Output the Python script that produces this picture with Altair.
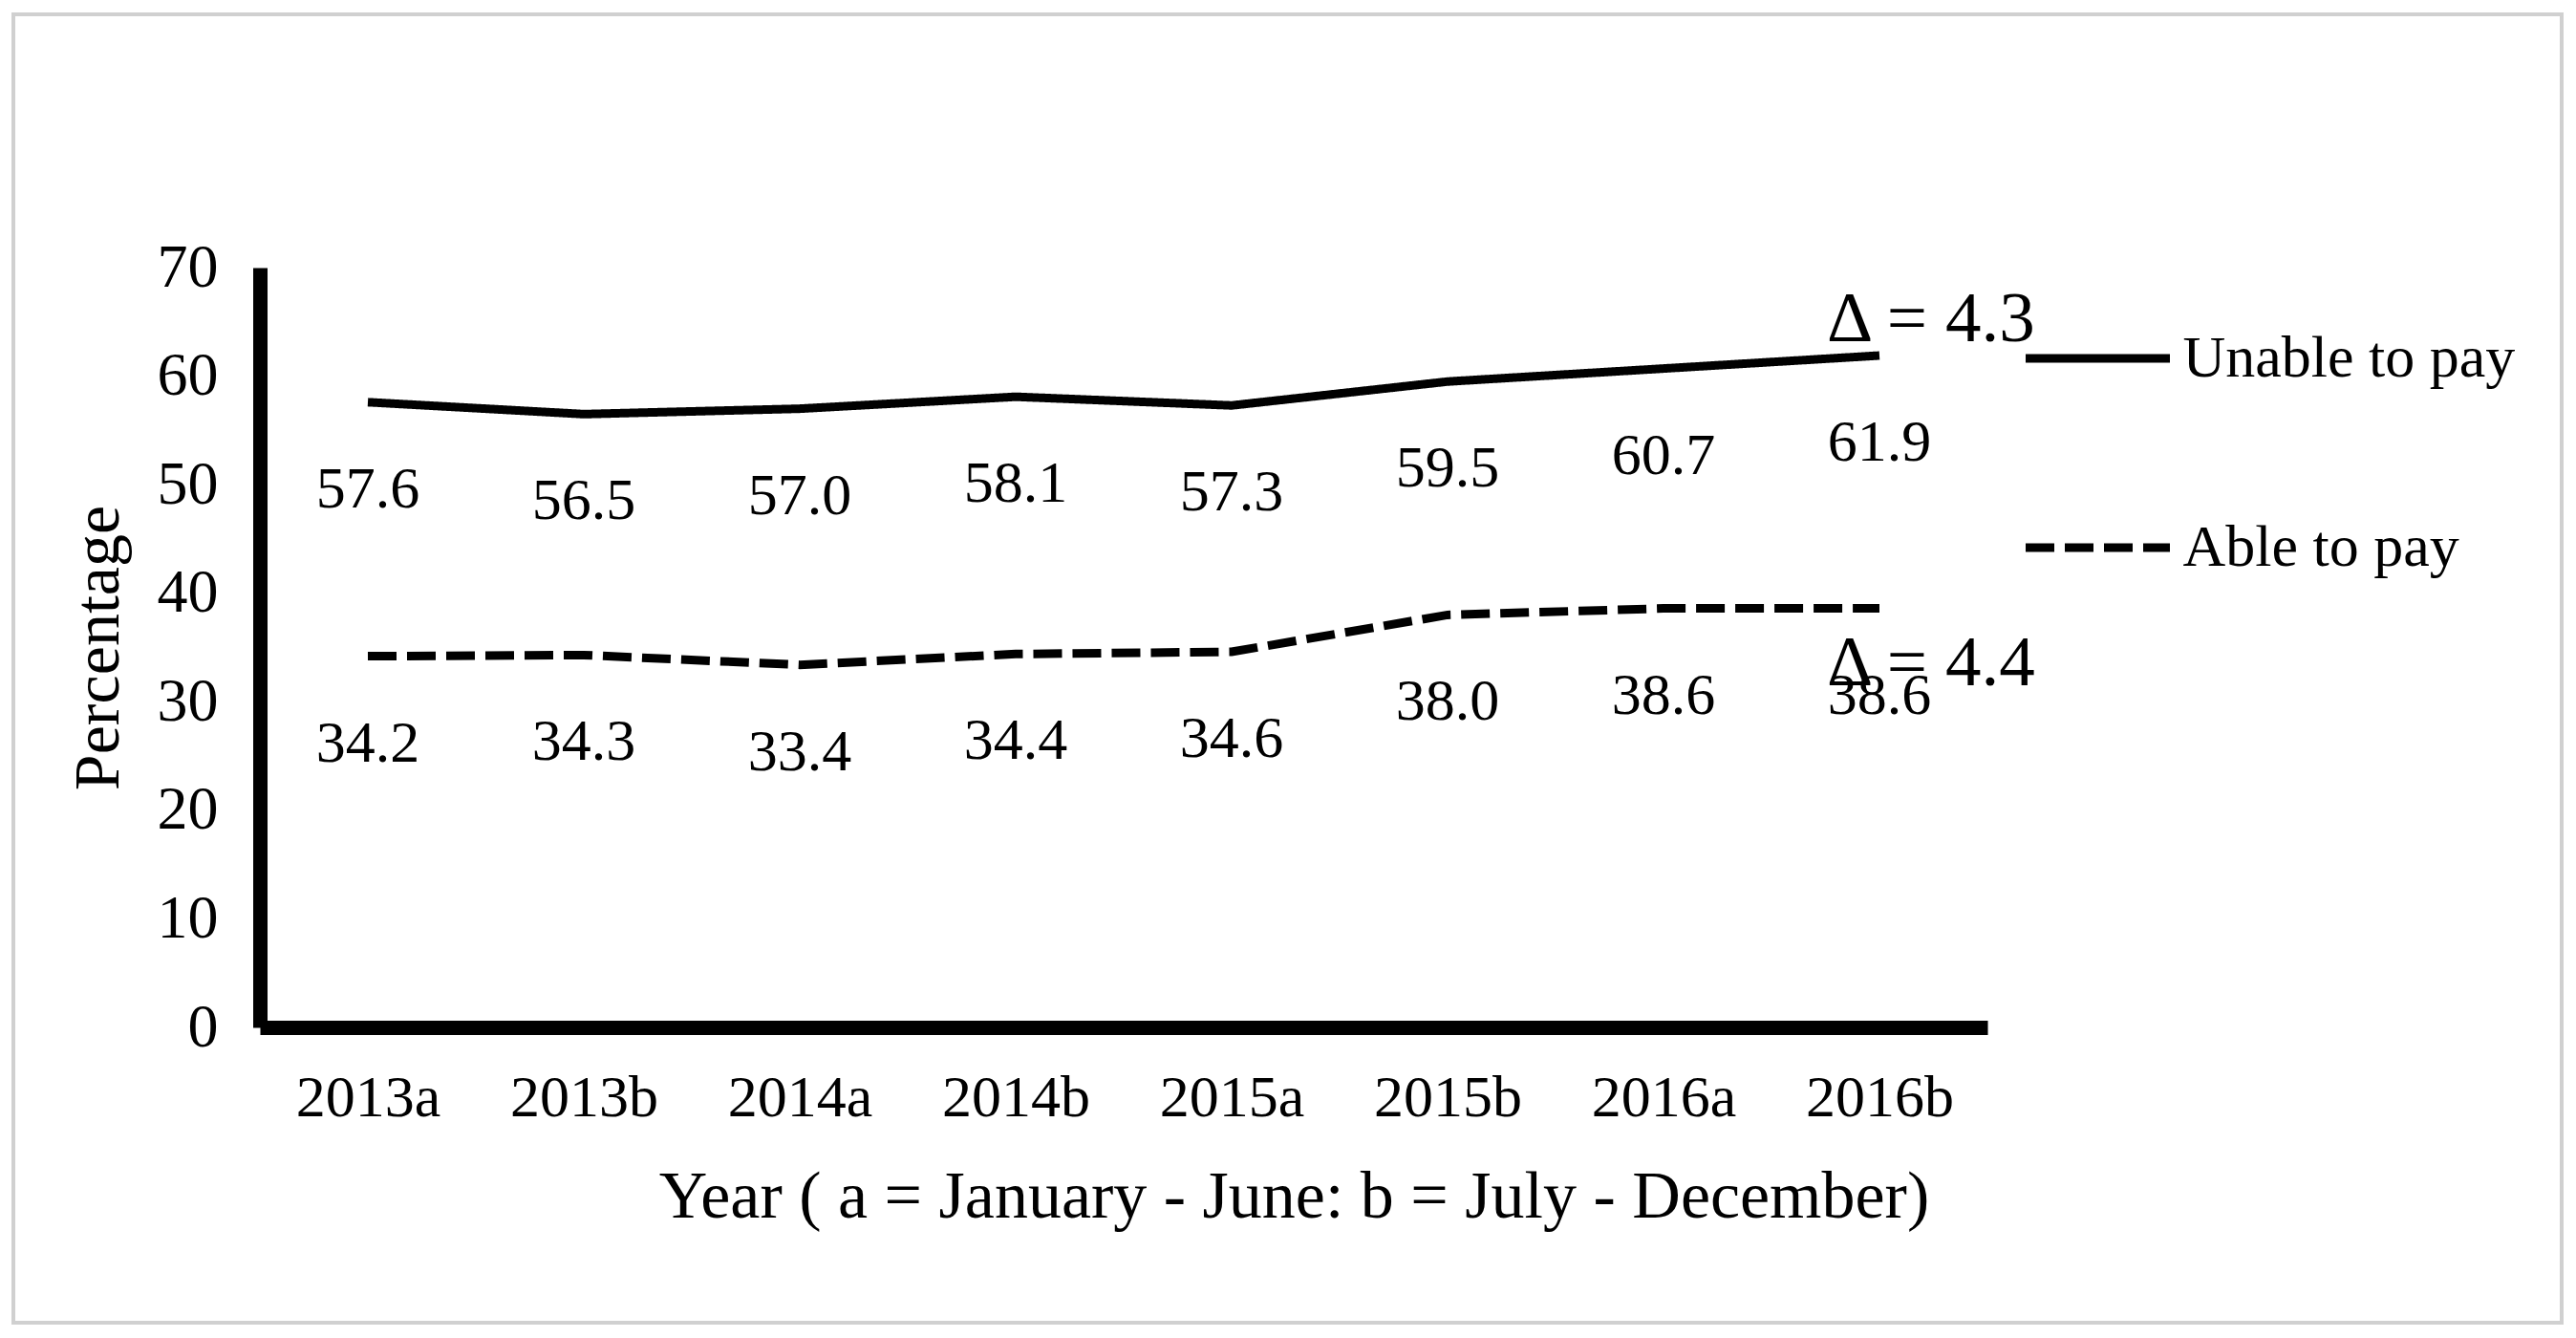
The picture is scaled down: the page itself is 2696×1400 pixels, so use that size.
import altair as alt
import pandas as pd

# ---- data ----
categories = ["2013a", "2013b", "2014a", "2014b", "2015a", "2015b", "2016a", "2016b"]
unable_to_pay = [57.6, 56.5, 57.0, 58.1, 57.3, 59.5, 60.7, 61.9]
able_to_pay = [34.2, 34.3, 33.4, 34.4, 34.6, 38.0, 38.6, 38.6]
series_names = ["Unable to pay", "Able to pay"]
delta_labels = ["\u0394 = 4.3", "\u0394 = 4.4"]
y_ticks = [0, 10, 20, 30, 40, 50, 60, 70]

rows = []
for c, u, a in zip(categories, unable_to_pay, able_to_pay):
    rows.append({"period": c, "series": series_names[0], "value": u})
    rows.append({"period": c, "series": series_names[1], "value": a})
df = pd.DataFrame(rows)

delta_top = pd.DataFrame({"period": [categories[-1]], "value": [unable_to_pay[-1]], "label": [delta_labels[0]]})
delta_bot = pd.DataFrame({"period": [categories[-1]], "value": [able_to_pay[-1]], "label": [delta_labels[1]]})

FONT = "Liberation Serif"
W, H = 1808, 795

x = alt.X(
    "period:N",
    sort=categories,
    scale=alt.Scale(type="point", padding=0.5),
    axis=alt.Axis(
        title="Year ( a = January -  June: b = July - December)",
        labelAngle=0,
        labelFont=FONT,
        labelFontSize=62,
        labelColor="black",
        labelBaseline="middle",
        labelPadding=73,
        ticks=False,
        tickSize=0,
        grid=False,
        domainColor="black",
        domainWidth=15,
        titleFont=FONT,
        titleFontSize=70,
        titleFontWeight="normal",
        titleColor="black",
        titleX=1082,
        titleY=177,
        titleAlign="center",
        titleBaseline="middle",
    ),
)

y = alt.Y(
    "value:Q",
    scale=alt.Scale(domain=[0, 70], nice=False, zero=True),
    axis=alt.Axis(
        title="Percentage",
        values=y_ticks,
        labelFont=FONT,
        labelFontSize=64,
        labelColor="black",
        labelPadding=44,
        ticks=False,
        tickSize=0,
        grid=False,
        domainColor="black",
        domainWidth=15,
        titleFont=FONT,
        titleFontSize=68,
        titleFontWeight="normal",
        titleColor="black",
        titleX=-169,
        titleY=397.5,
        titleAngle=270,
        titleAlign="center",
        titleBaseline="middle",
    ),
)

frame = alt.Chart(alt.Data(values=[{"k": 1}])).mark_rect(
    fillOpacity=0, stroke="#d0d0d0", strokeWidth=4
).encode(
    x=alt.value(-258), x2=alt.value(2409), y=alt.value(-265), y2=alt.value(1104)
)

lines = alt.Chart(df).mark_line(color="black", strokeWidth=9).encode(
    x=x,
    y=y,
    strokeDash=alt.StrokeDash(
        "series:N",
        scale=alt.Scale(domain=series_names, range=[[1, 0], [30, 11]]),
        legend=alt.Legend(
            title=None,
            orient="none",
            legendX=1843.5,
            legendY=15,
            symbolType="stroke",
            symbolSize=22801,
            symbolStrokeWidth=9,
            symbolStrokeColor="black",
            labelFont=FONT,
            labelFontSize=62,
            labelColor="black",
            labelOffset=9,
            labelLimit=0,
            rowPadding=87,
            padding=0,
        ),
    ),
)

value_labels = alt.Chart(df).mark_text(
    font=FONT, fontSize=62, dy=91, baseline="middle", align="center", color="black"
).encode(x=x, y=y, text=alt.Text("value:Q", format=".1f"))

d_top = alt.Chart(delta_top).mark_text(
    font=FONT, fontSize=75, dx=-55, dy=-15, align="left", baseline="alphabetic", color="black"
).encode(x=x, y=y, text="label:N")

d_bot = alt.Chart(delta_bot).mark_text(
    font=FONT, fontSize=75, dx=-55, dy=80, align="left", baseline="alphabetic", color="black"
).encode(x=x, y=y, text="label:N")

chart = alt.layer(frame, lines, value_labels, d_top, d_bot).properties(
    width=W,
    height=H,
    padding={"left": 4, "top": 5, "right": 0, "bottom": 0},
    background="white",
).configure_view(strokeWidth=0)

chart.save("out.html", embed_options={"renderer": "svg", "actions": False})
